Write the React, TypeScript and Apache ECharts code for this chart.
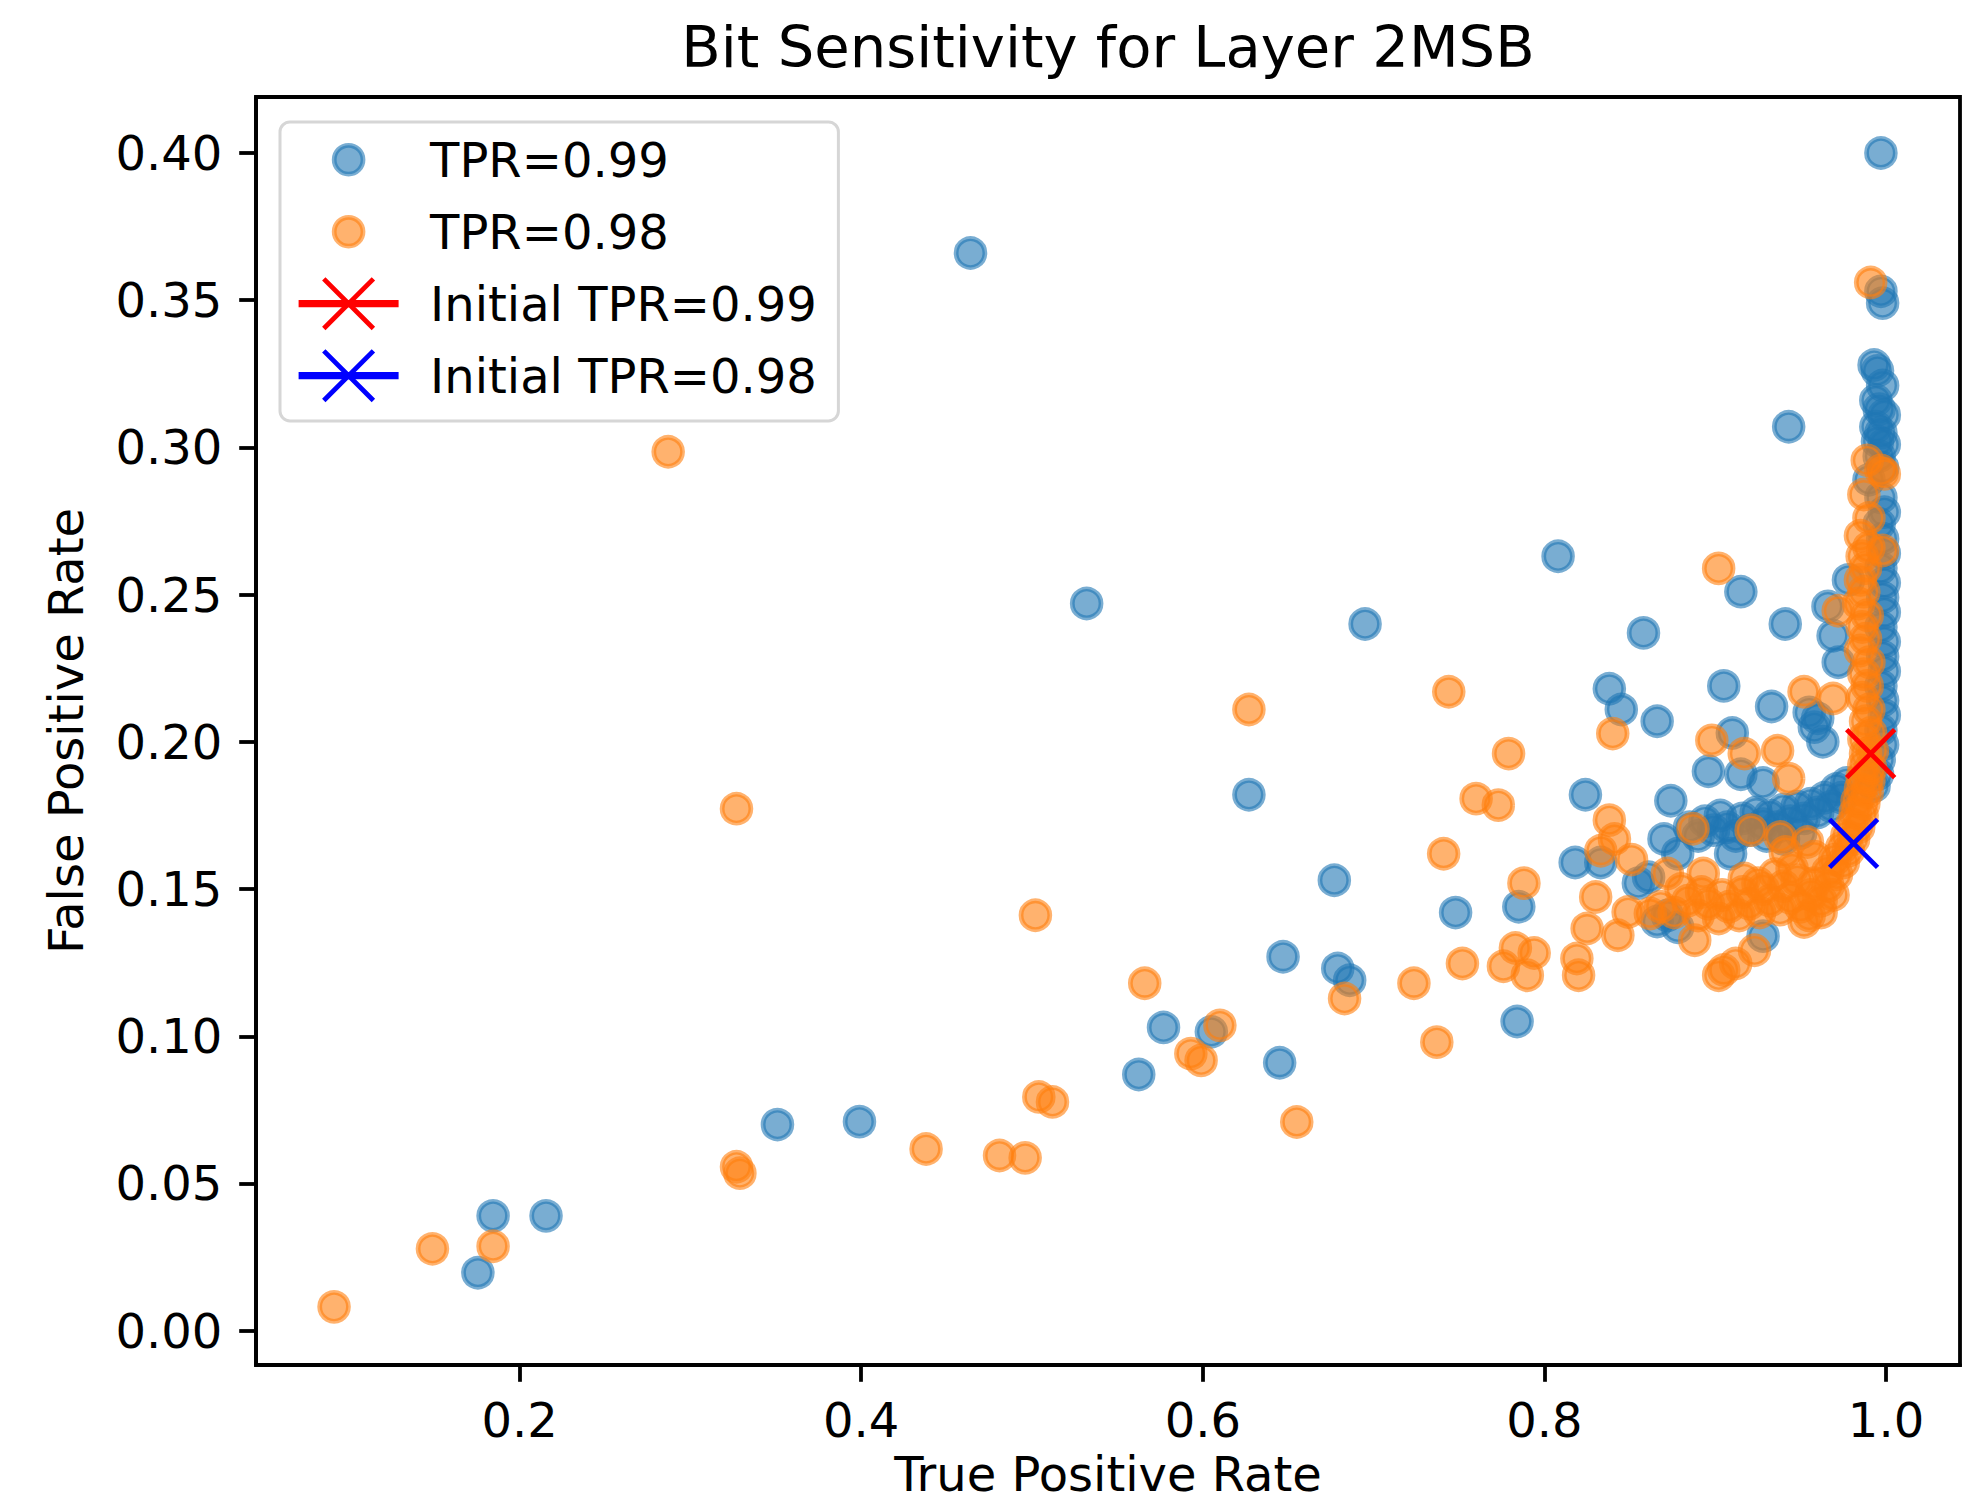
import React, { useEffect, useRef } from "react";
import * as echarts from "echarts";

const TITLE = "Bit Sensitivity for Layer 2MSB";
const X_LABEL = "True Positive Rate";
const Y_LABEL = "False Positive Rate";
const X_TICKS = [0.2, 0.4, 0.6, 0.8, 1.0];
const Y_TICKS = [0.0, 0.05, 0.1, 0.15, 0.2, 0.25, 0.3, 0.35, 0.4];
const X_RANGE = [0.0457, 1.0433];
const Y_RANGE = [-0.01165, 0.419];
const SERIES_NAMES = ["TPR=0.99", "TPR=0.98", "Initial TPR=0.99", "Initial TPR=0.98"];

// TPR=0.99 (blue)
const tpr099Points: number[][] = [
  [0.997, 0.4], [0.464, 0.366], [0.997, 0.353], [0.998, 0.349], [0.943, 0.307],
  [0.993, 0.328], [0.995, 0.326], [0.998, 0.321], [0.994, 0.316], [0.996, 0.313], [0.999, 0.311],
  [0.994, 0.307], [0.997, 0.305], [0.995, 0.302], [0.999, 0.301], [0.996, 0.297], [0.998, 0.293],
  [0.99, 0.289], [0.997, 0.283], [0.999, 0.278], [0.996, 0.274], [0.998, 0.269], [0.999, 0.264],
  [0.997, 0.259], [0.999, 0.254], [0.998, 0.249], [0.999, 0.244], [0.997, 0.239], [0.999, 0.234],
  [0.998, 0.229], [0.999, 0.224], [0.997, 0.219], [0.998, 0.214], [0.999, 0.209], [0.997, 0.204],
  [0.998, 0.199], [0.996, 0.194], [0.995, 0.189], [0.993, 0.185],
  [0.808, 0.263], [0.915, 0.251], [0.978, 0.255], [0.966, 0.246], [0.941, 0.24], [0.858, 0.237],
  [0.969, 0.236], [0.972, 0.227], [0.838, 0.218], [0.845, 0.211], [0.866, 0.207], [0.905, 0.219],
  [0.933, 0.212], [0.955, 0.21], [0.958, 0.205], [0.963, 0.2], [0.96, 0.208], [0.91, 0.203],
  [0.896, 0.19], [0.915, 0.189], [0.928, 0.186], [0.824, 0.182], [0.874, 0.18], [0.627, 0.182],
  [0.87, 0.167], [0.878, 0.162], [0.909, 0.162], [0.818, 0.159], [0.833, 0.159], [0.855, 0.152],
  [0.861, 0.154], [0.785, 0.144], [0.878, 0.137], [0.928, 0.134], [0.784, 0.105], [0.748, 0.142],
  [0.677, 0.153], [0.647, 0.127], [0.679, 0.123], [0.686, 0.119], [0.577, 0.103], [0.605, 0.1015],
  [0.5625, 0.087], [0.645, 0.091], [0.351, 0.07], [0.399, 0.071], [0.1845, 0.039], [0.2155, 0.039],
  [0.1756, 0.0197], [0.532, 0.247], [0.695, 0.24],
  [0.885, 0.171], [0.89, 0.168], [0.894, 0.173], [0.899, 0.17], [0.903, 0.175], [0.907, 0.171],
  [0.912, 0.168], [0.916, 0.174], [0.92, 0.17], [0.924, 0.176], [0.928, 0.172], [0.932, 0.175],
  [0.936, 0.171], [0.94, 0.177], [0.944, 0.173], [0.948, 0.178], [0.952, 0.174], [0.956, 0.179],
  [0.96, 0.176], [0.964, 0.181], [0.968, 0.178], [0.971, 0.184], [0.974, 0.181], [0.977, 0.186],
  [0.95, 0.169], [0.94, 0.167], [0.93, 0.168], [0.866, 0.139], [0.872, 0.141],
];

// TPR=0.98 (orange)
const tpr098Points: number[][] = [
  [0.0914, 0.0081], [0.149, 0.0278], [0.1845, 0.0287], [0.327, 0.0557], [0.329, 0.0535],
  [0.438, 0.0617], [0.481, 0.0595], [0.496, 0.0587], [0.504, 0.0794], [0.512, 0.0777],
  [0.593, 0.0941], [0.599, 0.0918], [0.61, 0.1037], [0.566, 0.118], [0.502, 0.1411],
  [0.327, 0.1773], [0.287, 0.2985], [0.627, 0.211], [0.744, 0.217], [0.655, 0.0709],
  [0.683, 0.1128], [0.7236, 0.118], [0.737, 0.098], [0.752, 0.1247], [0.741, 0.162],
  [0.76, 0.1807], [0.773, 0.1785], [0.779, 0.196], [0.776, 0.1238], [0.783, 0.13],
  [0.79, 0.1207], [0.794, 0.1283], [0.788, 0.152],
  [0.84, 0.2028], [0.898, 0.2005], [0.917, 0.196], [0.9365, 0.197], [0.943, 0.1875],
  [0.952, 0.217], [0.969, 0.2147], [0.972, 0.2445], [0.902, 0.2589], [0.991, 0.356],
  [0.838, 0.1734], [0.841, 0.167], [0.851, 0.16], [0.833, 0.163], [0.887, 0.1705],
  [0.921, 0.17], [0.938, 0.1677], [0.941, 0.1626], [0.954, 0.166], [0.83, 0.1473],
  [0.872, 0.1553], [0.893, 0.1553], [0.917, 0.1536], [0.849, 0.1422], [0.862, 0.1417],
  [0.825, 0.1366], [0.843, 0.1343], [0.888, 0.1326], [0.819, 0.1264], [0.82, 0.1207],
  [0.902, 0.1207], [0.905, 0.1225], [0.912, 0.1247], [0.923, 0.1292], [0.952, 0.1388],
  [0.868, 0.144], [0.876, 0.142], [0.884, 0.146], [0.89, 0.141], [0.896, 0.145], [0.902, 0.14],
  [0.908, 0.144], [0.914, 0.141], [0.92, 0.145], [0.926, 0.142], [0.932, 0.146], [0.938, 0.143],
  [0.944, 0.147], [0.95, 0.144], [0.956, 0.148], [0.962, 0.146], [0.88, 0.15], [0.892, 0.149],
  [0.904, 0.148], [0.916, 0.149], [0.928, 0.15], [0.94, 0.151], [0.948, 0.153], [0.958, 0.152],
  [0.966, 0.151], [0.966, 0.156], [0.971, 0.155], [0.97, 0.16], [0.975, 0.159], [0.974, 0.164],
  [0.978, 0.163], [0.977, 0.168], [0.981, 0.167], [0.98, 0.172], [0.984, 0.171], [0.982, 0.176],
  [0.986, 0.175], [0.983, 0.18], [0.987, 0.179], [0.985, 0.184], [0.989, 0.183], [0.986, 0.188],
  [0.99, 0.187], [0.987, 0.192], [0.991, 0.191], [0.988, 0.196], [0.992, 0.197], [0.987, 0.201],
  [0.991, 0.203], [0.988, 0.207], [0.99, 0.211], [0.986, 0.215], [0.989, 0.219], [0.987, 0.223],
  [0.99, 0.227], [0.985, 0.231], [0.988, 0.235], [0.986, 0.239], [0.989, 0.243], [0.984, 0.247],
  [0.987, 0.251], [0.985, 0.255], [0.988, 0.259], [0.986, 0.263], [0.99, 0.266], [0.998, 0.265],
  [0.985, 0.27], [0.99, 0.276], [0.987, 0.284], [0.989, 0.2956], [0.997, 0.2922], [0.999, 0.291],
  [0.945, 0.157], [0.935, 0.155], [0.925, 0.152], [0.958, 0.161], [0.962, 0.142], [0.955, 0.141],
  [0.969, 0.148],
];

const initial099Point: number[][] = [[0.991, 0.196]];
const initial098Point: number[][] = [[0.981, 0.1655]];

const BLUE = "rgba(31,119,180,0.6)";
const ORANGE = "rgba(255,127,14,0.6)";
const X_SYMBOL = "path://M0,0L10,10M10,0L0,10";
// circle of the marker size, inside a 100 x 49.6 box (same extent as the X handle)
const CIRCLE_ICON =
  "path://M0,6.2M100,55.8M35.6,31A14.4,14.4,0,1,1,64.4,31A14.4,14.4,0,1,1,35.6,31Z";
const FONT = "DejaVu Sans";

export default function App() {
  const ref = useRef<HTMLDivElement>(null);
  useEffect(() => {
    if (!ref.current) return;
    const chart = echarts.init(ref.current, undefined, { renderer: "svg" });
    const tickLine = { color: "#000", width: 3.8 };
    const option: any = {
      animation: false,
      backgroundColor: "#fff",
      textStyle: { fontFamily: FONT },
      title: {
        text: TITLE,
        left: 1108,
        top: 18,
        padding: 0,
        textAlign: "center",
        textStyle: { fontFamily: FONT, fontSize: 57.6, fontWeight: "normal", color: "#000" },
      },
      grid: {
        left: 256,
        top: 97,
        width: 1704,
        height: 1268,
        containLabel: false,
        outerBoundsMode: "none",
        show: true,
        borderColor: "#000",
        borderWidth: 3.8,
        backgroundColor: "#fff",
      },
      xAxis: {
        type: "value",
        min: X_RANGE[0],
        max: X_RANGE[1],
        name: X_LABEL,
        nameLocation: "middle",
        nameGap: 90,
        nameTextStyle: { fontFamily: FONT, fontSize: 48, lineHeight: 38, color: "#000" },
        axisLine: { show: true, onZero: false, lineStyle: tickLine },
        axisTick: { show: true, length: 16.8, inside: false, lineStyle: tickLine, customValues: X_TICKS },
        axisLabel: {
          show: true,
          margin: 31,
          fontSize: 48,
          fontFamily: FONT,
          color: "#000",
          customValues: X_TICKS,
          formatter: (v: number) => v.toFixed(1),
        },
        splitLine: { show: false },
      },
      yAxis: {
        type: "value",
        min: Y_RANGE[0],
        max: Y_RANGE[1],
        name: Y_LABEL,
        nameLocation: "middle",
        nameRotate: 90,
        nameGap: 166,
        nameTextStyle: { fontFamily: FONT, fontSize: 48, color: "#000" },
        axisLine: { show: true, onZero: false, lineStyle: tickLine },
        axisTick: { show: true, length: 16.8, inside: false, lineStyle: tickLine, customValues: Y_TICKS },
        axisLabel: {
          show: true,
          margin: 33.6,
          fontSize: 48,
          fontFamily: FONT,
          color: "#000",
          customValues: Y_TICKS,
          formatter: (v: number) => v.toFixed(2),
        },
        splitLine: { show: false },
      },
      legend: {
        orient: "vertical",
        left: 280,
        top: 122,
        padding: [10.5, 21.5, 18, 15],
        itemWidth: 100,
        itemHeight: 62,
        itemGap: 17.6,
        symbolKeepAspect: true,
        backgroundColor: "#fff",
        borderColor: "#d6d6d6",
        borderWidth: 3,
        borderRadius: 10,
        selectedMode: false,
        textStyle: { fontFamily: FONT, fontSize: 48, color: "#000", padding: [0, 0, 0, 26.5] },
        data: [
          { name: SERIES_NAMES[0], icon: CIRCLE_ICON, itemStyle: { borderWidth: 4.8 } },
          { name: SERIES_NAMES[1], icon: CIRCLE_ICON, itemStyle: { borderWidth: 4.8 } },
          {
            name: SERIES_NAMES[2],
            itemStyle: { color: "#ff0000", borderColor: "#ff0000", borderWidth: 4.8 },
            lineStyle: { color: "#ff0000", width: 7.2 },
          },
          {
            name: SERIES_NAMES[3],
            itemStyle: { color: "#0000ff", borderColor: "#0000ff", borderWidth: 4.8 },
            lineStyle: { color: "#0000ff", width: 7.2 },
          },
        ],
      },
      series: [
        {
          name: SERIES_NAMES[0],
          type: "scatter",
          data: tpr099Points,
          symbol: "circle",
          symbolSize: 28.75,
          itemStyle: { color: BLUE, borderColor: BLUE, borderWidth: 4.8, opacity: 1 },
          silent: true,
        },
        {
          name: SERIES_NAMES[1],
          type: "scatter",
          data: tpr098Points,
          symbol: "circle",
          symbolSize: 28.75,
          itemStyle: { color: ORANGE, borderColor: ORANGE, borderWidth: 4.8, opacity: 1 },
          silent: true,
        },
        {
          name: SERIES_NAMES[2],
          type: "line",
          data: initial099Point,
          symbol: X_SYMBOL,
          symbolSize: 48,
          showSymbol: true,
          lineStyle: { color: "#ff0000", width: 7.2 },
          itemStyle: { color: "#ff0000", borderColor: "#ff0000", borderWidth: 4.8 },
          silent: true,
        },
        {
          name: SERIES_NAMES[3],
          type: "line",
          data: initial098Point,
          symbol: X_SYMBOL,
          symbolSize: 48,
          showSymbol: true,
          lineStyle: { color: "#0000ff", width: 7.2 },
          itemStyle: { color: "#0000ff", borderColor: "#0000ff", borderWidth: 4.8 },
          silent: true,
        },
      ],
    };
    chart.setOption(option);
    return () => chart.dispose();
  }, []);
  return (
    <div
      ref={ref}
      style={{ position: "absolute", left: 0, top: 0, width: 1977, height: 1504 }}
    />
  );
}
